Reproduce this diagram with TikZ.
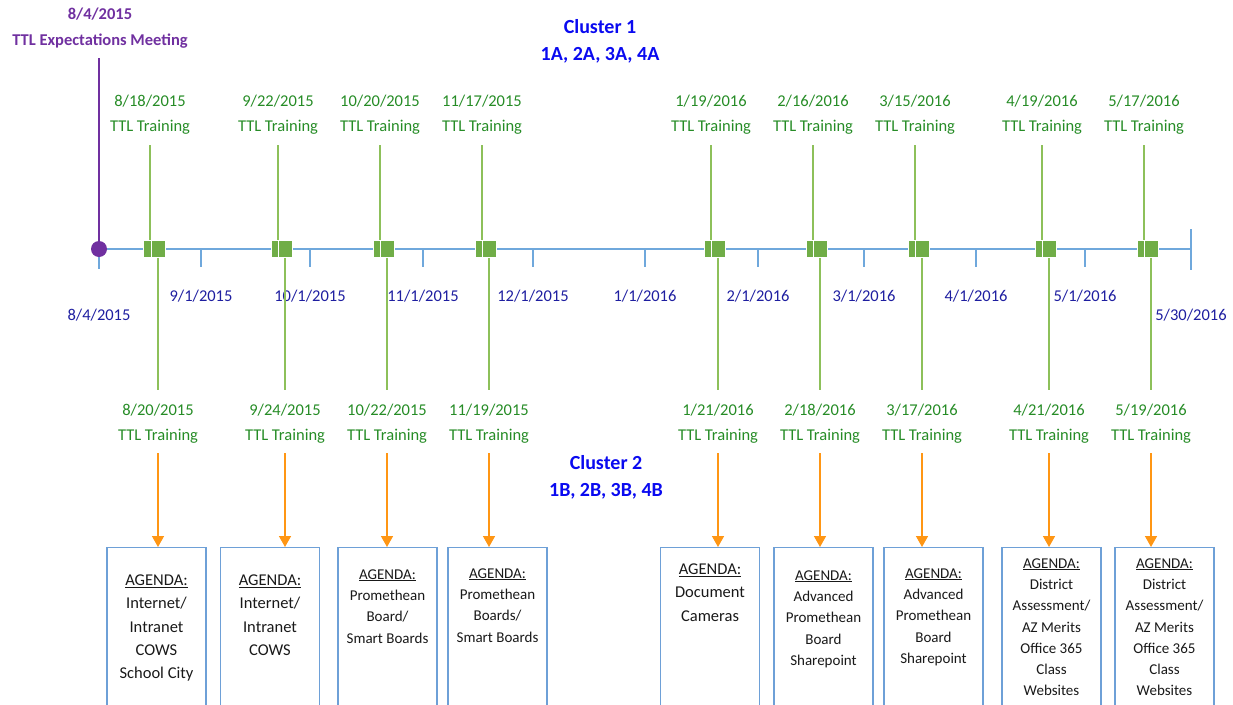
\documentclass[tikz,border=0pt]{standalone}
\usepackage{fontspec}
\setmainfont{Carlito}
\usetikzlibrary{arrows.meta, positioning}
\definecolor{axisblue}{RGB}{111,168,220}
\definecolor{markgreen}{RGB}{112,173,71}
\definecolor{linegreen}{RGB}{141,192,90}
\definecolor{textgreen}{RGB}{38,140,38}
\definecolor{datenavy}{RGB}{30,30,160}
\definecolor{clusterblue}{RGB}{10,10,240}
\definecolor{meetpurple}{RGB}{112,48,160}
\definecolor{agendaorange}{RGB}{255,150,20}
\definecolor{boxblue}{RGB}{110,160,215}
\definecolor{agendagray}{RGB}{25,25,25}
\tikzset{
    axis/.style={
        draw=axisblue,
        line width=1.5pt
    },
    datelabel/.style={
        text=datenavy,
        inner sep=0pt,
        font=\fontsize{16.5}{20}\selectfont
    },
    traininglabel/.style={
        text=textgreen,
        inner sep=0pt,
        align=center,
        font=\fontsize{16.5}{25}\selectfont
    },
    marker/.style={
        fill=markgreen,
        draw=white,
        line width=0.6pt,
        minimum width=14pt,
        minimum height=17pt,
        inner sep=0pt
    },
    trainline/.style={
        color=linegreen,
        line width=1.5pt
    },
    agendaarrow/.style={
        color=agendaorange,
        line width=1.5pt,
        -{Triangle[width=12pt,length=11pt]}
    },
    agendabox/.style={
        draw=boxblue,
        line width=1.2pt,
        anchor=north,
        minimum width=99pt,
        minimum height=170pt
    },
    agendatext/.style={
        text=agendagray,
        anchor=north,
        inner sep=0pt,
        align=center,
        font=\fontsize{16.5}{23.3}\selectfont
    },
    smallagenda/.style={
        agendatext,
        font=\fontsize{15}{21.3}\selectfont
    },
    cluster/.style={
        text=clusterblue,
        inner sep=0pt,
        align=center,
        font=\bfseries\fontsize{20}{27}\selectfont
    },
    meeting/.style={
        text=meetpurple,
        inner sep=0pt,
        align=center,
        font=\bfseries\fontsize{16.5}{26}\selectfont
    }
}

\begin{document}
\begin{tikzpicture}[x=1pt, y=-1pt]
            \useasboundingbox (0,0) rectangle (1233,704);

            % Axis
            \coordinate (axstart) at (99,249);
            \coordinate (axend) at (1191,249);
            \draw [axis] (axstart) -- (axend);
            \draw [axis] (axend) ++(0,-20) -- ++(0,41);
            \draw [axis] (axstart) -- ++(0,20);
            \draw [axis]
                (201,249) -- ++(0,18)
                (310,249) -- ++(0,18)
                (423,249) -- ++(0,18)
                (533,249) -- ++(0,18)
                (645,249) -- ++(0,18)
                (758,249) -- ++(0,18)
                (864,249) -- ++(0,18)
                (976,249) -- ++(0,18)
                (1085,249) -- ++(0,18)
            ;

            % Month dates
            \node (start) [datelabel] at (99,315) {8/4/2015};
            \node (sep) [datelabel] at (201,296) {9/1/2015};
            \node (oct) [datelabel] at (310,296) {10/1/2015};
            \node (nov) [datelabel] at (423,296) {11/1/2015};
            \node (dec) [datelabel] at (533,296) {12/1/2015};
            \node (jan) [datelabel] at (645,296) {1/1/2016};
            \node (feb) [datelabel] at (758,296) {2/1/2016};
            \node (mar) [datelabel] at (864,296) {3/1/2016};
            \node (apr) [datelabel] at (976,296) {4/1/2016};
            \node (may) [datelabel] at (1085,296) {5/1/2016};
            \node (finish) [datelabel] at (1191,315) {5/30/2016};

            % Kick-off meeting
            \node (meet) [meeting] at (100,28.4) {8/4/2015\\TTL Expectations Meeting};
            \node (kickoff) [circle, fill=meetpurple, minimum size=16pt, inner sep=0pt] at (axstart) {};
            \draw [meetpurple, line width=1.5pt, shorten <=9.4pt] (meet.south -| kickoff) -- (kickoff);

            % Clusters
            \node (clusterA) [cluster] at (600,41.7) {Cluster 1\\1A, 2A, 3A, 4A};
            \node (clusterB) [cluster] at (606,477.7) {Cluster 2\\1B, 2B, 3B, 4B};

            % Cluster 1 trainings
            \node (trainA1) [traininglabel] at (150,115) {8/18/2015\\TTL Training};
            \node (trainA2) [traininglabel] at (278,115) {9/22/2015\\TTL Training};
            \node (trainA3) [traininglabel] at (380,115) {10/20/2015\\TTL Training};
            \node (trainA4) [traininglabel] at (482,115) {11/17/2015\\TTL Training};
            \node (trainA5) [traininglabel] at (711,115) {1/19/2016\\TTL Training};
            \node (trainA6) [traininglabel] at (813,115) {2/16/2016\\TTL Training};
            \node (trainA7) [traininglabel] at (915,115) {3/15/2016\\TTL Training};
            \node (trainA8) [traininglabel] at (1042,115) {4/19/2016\\TTL Training};
            \node (trainA9) [traininglabel] at (1144,115) {5/17/2016\\TTL Training};

            % Cluster 2 trainings
            \node (trainB1) [traininglabel] at (158,424) {8/20/2015\\TTL Training};
            \node (trainB2) [traininglabel] at (285,424) {9/24/2015\\TTL Training};
            \node (trainB3) [traininglabel] at (387,424) {10/22/2015\\TTL Training};
            \node (trainB4) [traininglabel] at (489,424) {11/19/2015\\TTL Training};
            \node (trainB5) [traininglabel] at (718,424) {1/21/2016\\TTL Training};
            \node (trainB6) [traininglabel] at (820,424) {2/18/2016\\TTL Training};
            \node (trainB7) [traininglabel] at (922,424) {3/17/2016\\TTL Training};
            \node (trainB8) [traininglabel] at (1049,424) {4/21/2016\\TTL Training};
            \node (trainB9) [traininglabel] at (1151,424) {5/19/2016\\TTL Training};

            % Markers on the axis
            \node (markA1) [marker] at (150,249) {};
            \node (markB1) [marker] at (158,249) {};
            \node (markA2) [marker] at (278,249) {};
            \node (markB2) [marker] at (285,249) {};
            \node (markA3) [marker] at (380,249) {};
            \node (markB3) [marker] at (387,249) {};
            \node (markA4) [marker] at (482,249) {};
            \node (markB4) [marker] at (489,249) {};
            \node (markA5) [marker] at (711,249) {};
            \node (markB5) [marker] at (718,249) {};
            \node (markA6) [marker] at (813,249) {};
            \node (markB6) [marker] at (820,249) {};
            \node (markA7) [marker] at (915,249) {};
            \node (markB7) [marker] at (922,249) {};
            \node (markA8) [marker] at (1042,249) {};
            \node (markB8) [marker] at (1049,249) {};
            \node (markA9) [marker] at (1144,249) {};
            \node (markB9) [marker] at (1151,249) {};

            % Agenda boxes
            \node (box1) [agendabox] at (156.5,547) {};
            \node (box2) [agendabox] at (270,547) {};
            \node (box3) [agendabox] at (387.5,547) {};
            \node (box4) [agendabox] at (497.5,547) {};
            \node (box5) [agendabox] at (710,547) {};
            \node (box6) [agendabox] at (823.5,547) {};
            \node (box7) [agendabox] at (933.5,547) {};
            \node (box8) [agendabox] at (1051.5,547) {};
            \node (box9) [agendabox] at (1164.5,547) {};

            \node (agenda1) [agendatext] at (156.5,574.7) {\underline{AGENDA:}\\Internet/\\Intranet\\COWS\\School City};
            \node (agenda2) [agendatext] at (270,574.7) {\underline{AGENDA:}\\Internet/\\Intranet\\COWS};
            \node (agenda3) [smallagenda] at (387.5,569.2) {\underline{AGENDA:}\\Promethean\\Board/\\Smart Boards};
            \node (agenda4) [smallagenda] at (497.5,568.2) {\underline{AGENDA:}\\Promethean\\Boards/\\Smart Boards};
            \node (agenda5) [agendatext] at (710,563.7) {\underline{AGENDA:}\\Document\\Cameras};
            \node (agenda6) [smallagenda] at (823.5,570.2) {\underline{AGENDA:}\\Advanced\\Promethean\\Board\\Sharepoint};
            \node (agenda7) [smallagenda] at (933.5,568.2) {\underline{AGENDA:}\\Advanced\\Promethean\\Board\\Sharepoint};
            \node (agenda8) [smallagenda] at (1051.5,558.2) {\underline{AGENDA:}\\District\\Assessment/\\AZ Merits\\Office 365\\Class\\Websites};
            \node (agenda9) [smallagenda] at (1164.5,558.2) {\underline{AGENDA:}\\District\\Assessment/\\AZ Merits\\Office 365\\Class\\Websites};

            % Cluster 1 lines
            \path [trainline, shorten <=10.4pt]
                (trainA1) edge (markA1)
                (trainA2) edge (markA2)
                (trainA3) edge (markA3)
                (trainA4) edge (markA4)
                (trainA5) edge (markA5)
                (trainA6) edge (markA6)
                (trainA7) edge (markA7)
                (trainA8) edge (markA8)
                (trainA9) edge (markA9)
            ;

            % Cluster 2 lines
            \path [trainline, shorten >=14pt]
                (markB1) edge (trainB1)
                (markB2) edge (trainB2)
                (markB3) edge (trainB3)
                (markB4) edge (trainB4)
                (markB5) edge (trainB5)
                (markB6) edge (trainB6)
                (markB7) edge (trainB7)
                (markB8) edge (trainB8)
                (markB9) edge (trainB9)
            ;

            % Agenda arrows
            \path [agendaarrow, shorten <=9.5pt]
                (trainB1) edge (trainB1 |- box1.north)
                (trainB2) edge (trainB2 |- box2.north)
                (trainB3) edge (trainB3 |- box3.north)
                (trainB4) edge (trainB4 |- box4.north)
                (trainB5) edge (trainB5 |- box5.north)
                (trainB6) edge (trainB6 |- box6.north)
                (trainB7) edge (trainB7 |- box7.north)
                (trainB8) edge (trainB8 |- box8.north)
                (trainB9) edge (trainB9 |- box9.north)
            ;
        \end{tikzpicture}
\end{document}
